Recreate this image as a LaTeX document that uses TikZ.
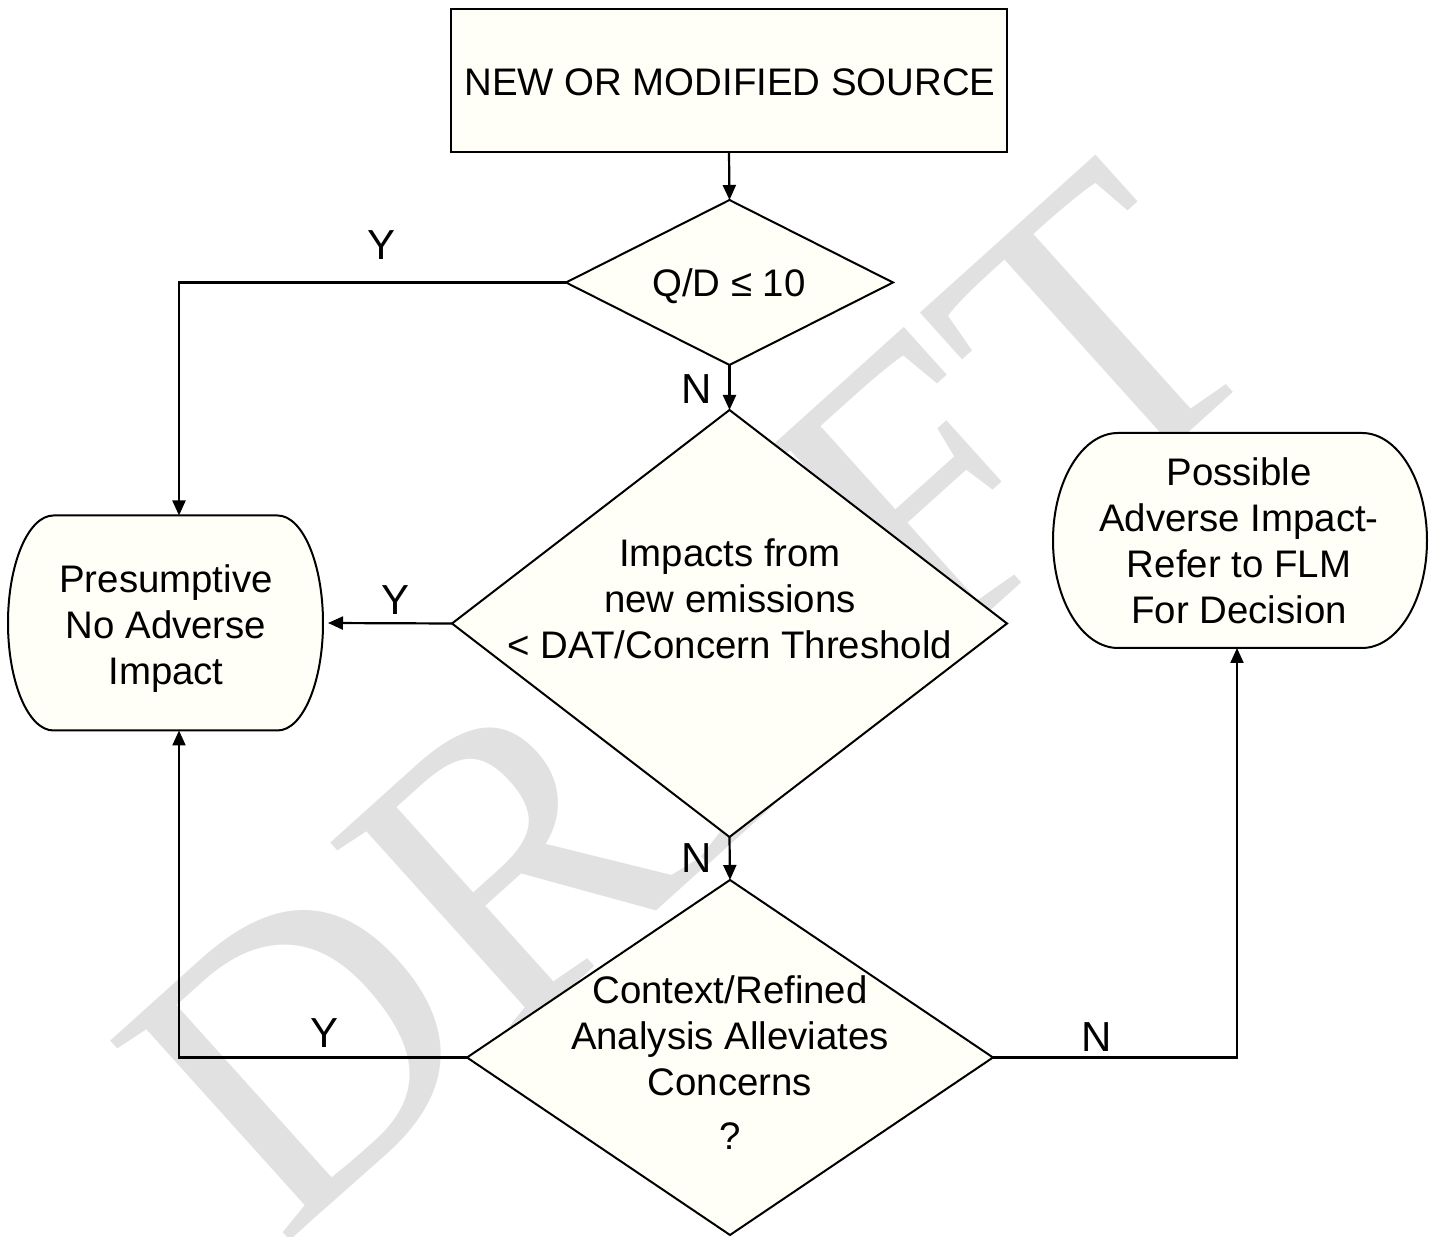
\documentclass[tikz,border=0pt]{standalone}
\usepackage{fontspec}
\setmainfont{Liberation Sans}
\newfontfamily\wmfont{Liberation Serif}
\usetikzlibrary{shapes.geometric, arrows.meta, calc, backgrounds}
\definecolor{shapefill}{RGB}{255,255,247}
\definecolor{wmgray}{RGB}{225,225,225}

\begin{document}
\begin{tikzpicture}[x=0.5pt, y=0.5pt,
  every node/.style={inner sep=0pt, outer sep=0pt},
  txt/.style={font=\fontsize{19.2pt}{23pt}\selectfont, align=center},
  boxshape/.style={draw, line width=1pt, fill=shapefill},
  decision/.style={diamond, draw, line width=1pt, fill=shapefill},
  arr/.style={line width=1.1pt, -{Triangle[length=7.5pt, width=6.5pt]}},
  lbl/.style={font=\fontsize{21pt}{23pt}\selectfont},
]
\useasboundingbox (0,0) rectangle (1432,1237);

% source box
\node[boxshape, rectangle, minimum width=278pt, minimum height=71.5pt] (src) at (729,1156.5) {};
\node[txt] (srct) at (730,1155) {NEW OR MODIFIED SOURCE};

% decisions
\node[decision, minimum width=163.5pt, minimum height=82.5pt] (d1) at (729.5,954.5) {};
\node[txt] (d1t) at (729,951) {Q/D ≤ 10};

\node[decision, minimum width=277.5pt, minimum height=213.5pt] (d2) at (729.5,613.5) {};
\node[txt] (d2t) at (730,638) {Impacts from\\new emissions\\< DAT/Concern Threshold};

\node[decision, minimum width=263pt, minimum height=177.5pt] (d3) at (730,179.5) {};
\node[txt] (d3t) at (730,174) {Context/Refined\\Analysis Alleviates\\Concerns\\[4pt]?};

% outcomes
\node[minimum width=157.5pt, minimum height=107.5pt] (pres) at (165.5,614) {};
\node[txt] (prest) at (166,608) {Presumptive\\No Adverse\\Impact};
\node[minimum width=187pt, minimum height=107.5pt] (poss) at (1240,696.5) {};
\node[txt] (posst) at (1239,696) {Possible\\Adverse Impact-\\Refer to FLM\\For Decision};

\begin{pgfonlayer}{background}
  \fill[white] (0,0) rectangle (1432,1237);
  \node[text=wmgray, font=\wmfont\fontsize{205pt}{205pt}\selectfont, rotate=42] (wm) at (691,538) {DRAFT};
  \path[boxshape] ([xshift=22.75pt]pres.north west) -- ([xshift=-22.75pt]pres.north east)
    arc[start angle=90, end angle=-90, x radius=22.75pt, y radius=53.75pt]
    -- ([xshift=22.75pt]pres.south west)
    arc[start angle=270, end angle=90, x radius=22.75pt, y radius=53.75pt] -- cycle;
  \path[boxshape] ([xshift=32.5pt]poss.north west) -- ([xshift=-32.5pt]poss.north east)
    arc[start angle=90, end angle=-90, x radius=32.5pt, y radius=53.75pt]
    -- ([xshift=32.5pt]poss.south west)
    arc[start angle=270, end angle=90, x radius=32.5pt, y radius=53.75pt] -- cycle;
\end{pgfonlayer}

% connectors
\draw[arr] (src.south) -- (d1.north);
\draw[arr] (d1.west) -| ($(pres.north)+(13.5,0)$);
\draw[arr] (d1.south) -- (d2.north);
\draw[arr, shorten >=2.5pt] (d2.west) -- (pres.east);
\draw[arr] (d2.south) -- (d3.north);
\draw[arr] (d3.west) -| ($(pres.south)+(13.5,0)$);
\draw[arr] (d3.east) -| ($(poss.south)+(-3,0)$);

% branch labels
\node[lbl] (ly1) at (382,992) {Y};
\node[lbl] (ln1) at (697,848) {N};
\node[lbl] (ly2) at (396,637) {Y};
\node[lbl] (ln2) at (697,379) {N};
\node[lbl] (ly3) at (325,204) {Y};
\node[lbl] (ln3) at (1097,200) {N};
\end{tikzpicture}
\end{document}
